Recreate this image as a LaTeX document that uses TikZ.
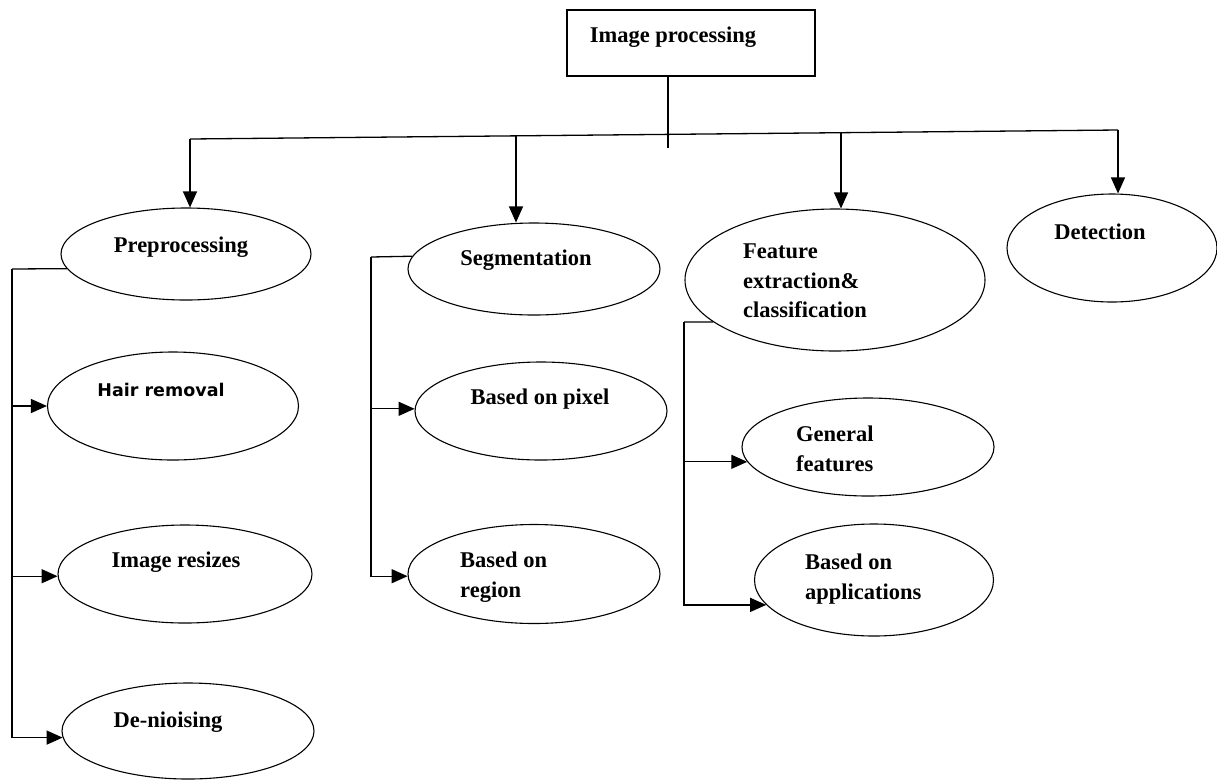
\documentclass[tikz,border=0pt]{standalone}
\usepackage{fontspec}
\setmainfont{Liberation Serif}
\newfontfamily\hairfont{DejaVu Sans}
\usetikzlibrary{shapes.geometric,arrows.meta}

\begin{document}
\begin{tikzpicture}
      [ x=1pt, y=-1pt,
        oval/.style={ellipse, draw, line width=1.1pt, inner sep=0pt},
        headbox/.style={rectangle, draw, line width=1.3pt, inner sep=0pt},
        lbl/.style={font=\bfseries\fontsize{22.5}{29.5}\selectfont, inner sep=0pt, align=left},
        link/.style={line width=1.3pt},
        >={Triangle[length=16pt,width=14pt]}
      ]
      \useasboundingbox (0,0) rectangle (1217,780);

      \node[headbox, minimum width=248pt, minimum height=66pt]  (top)    at (691,43)   {};
      \node[oval, minimum width=250pt, minimum height=92pt]     (pre)    at (186,254)  {};
      \node[oval, minimum width=252pt, minimum height=92pt]     (seg)    at (534,269)  {};
      \node[oval, minimum width=300pt, minimum height=142pt]    (feat)   at (835,280)  {};
      \node[oval, minimum width=210pt, minimum height=108pt]    (det)    at (1112,248) {};
      \node[oval, minimum width=251pt, minimum height=108pt]    (hair)   at (173,406)  {};
      \node[oval, minimum width=254pt, minimum height=98pt]     (resz)   at (185,574)  {};
      \node[oval, minimum width=252pt, minimum height=96pt]     (deno)   at (188,731)  {};
      \node[oval, minimum width=252pt, minimum height=98pt]     (pixel)  at (541,411)  {};
      \node[oval, minimum width=252pt, minimum height=99pt]     (region) at (534,574)  {};
      \node[oval, minimum width=252pt, minimum height=98pt]     (gen)    at (868,447)  {};
      \node[oval, minimum width=239pt, minimum height=112pt]    (apps)   at (874,580)  {};

      \node[lbl, anchor=base]  (toptxt)    at (673,42)   {Image processing};
      \node[lbl, anchor=base]  (pretxt)    at (181,252)  {Preprocessing};
      \node[lbl, anchor=base]  (segtxt)    at (526,265)  {Segmentation};
      \node[lbl, anchor=west]  (feattxt)   at (743,281)  {Feature\\extraction\&\\classification};
      \node[lbl, anchor=base]  (dettxt)    at (1100,239) {Detection};
      \node[lbl, anchor=base, font=\hairfont\bfseries\fontsize{17.5}{20}\selectfont]
                               (hairtxt)   at (161,396)  {Hair removal};
      \node[lbl, anchor=base]  (resztxt)   at (176,567)  {Image resizes};
      \node[lbl, anchor=base]  (denotxt)   at (168,727)  {De-nioising};
      \node[lbl, anchor=base]  (pixeltxt)  at (540,404)  {Based on pixel};
      \node[lbl, anchor=west]  (regiontxt) at (460,577)  {Based on\\region};
      \node[lbl, anchor=west]  (gentxt)    at (796,449)  {General\\features};
      \node[lbl, anchor=west]  (appstxt)   at (805,579)  {Based on\\applications};

      \coordinate (stem) at (668,148);
      \coordinate (hl)   at (190,139);
      \coordinate (hr)   at (1118,130);
      \coordinate (dseg) at (516,135.8);
      \coordinate (dfe)  at (841,132.7);
      \coordinate (pbus) at (12,269);
      \coordinate (sbus) at (371,257);
      \coordinate (fbus) at (684,322);

      \draw[link] (top.south -| stem) -- (stem);
      \draw[link] (hl) -- (hr);
      \draw[link,->] (hl)   -- (hl |- pre.north);
      \draw[link,->] (dseg) -- (dseg |- seg.north);
      \draw[link,->] (dfe)  -- (dfe |- feat.north);
      \draw[link,->] (hr)   -- (hr |- det.north);

      \draw[link]    (pre.187) -- (pbus);
      \draw[link,->] (pbus) |- (deno.183);
      \draw[link,->] (pbus |- hair.west) -- (hair.west);
      \draw[link,->] (pbus |- resz.181) -- (resz.181);

      \draw[link]    (seg.174) -- (sbus);
      \draw[link,->] (sbus) |- (region.181);
      \draw[link,->] (sbus |- pixel.179) -- (pixel.179);

      \draw[link]    (feat.199) -- (fbus);
      \draw[link,->] (fbus) |- (apps.193);
      \draw[link,->] (fbus |- gen.187) -- (gen.187);
\end{tikzpicture}
\end{document}
